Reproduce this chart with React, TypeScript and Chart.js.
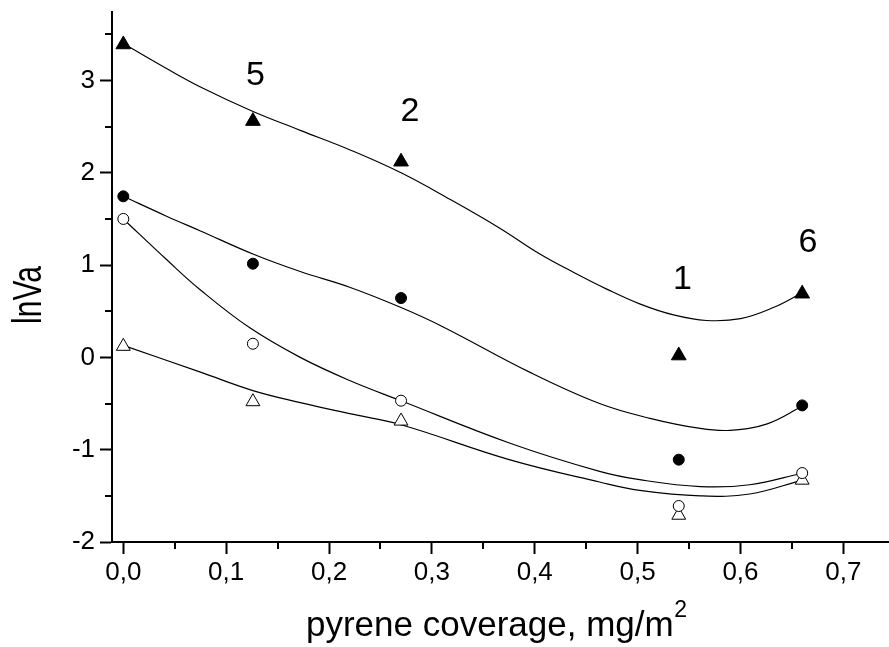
import React, { useEffect, useRef } from 'react';
import { Chart, registerables } from 'chart.js';

Chart.register(...registerables);

const FONT = "'Liberation Sans', Arial, Helvetica, sans-serif";

// measured points
const pointX = [0, 0.126, 0.27, 0.54, 0.66];
const filledTriangleY = [3.39, 2.56, 2.12, 0.02, 0.69];
const filledCircleY = [1.745, 1.015, 0.643, -1.108, -0.52];
const openCircleY = [1.5, 0.148, -0.469, -1.61, -1.253];
const openTriangleY = [0.12, -0.48, -0.69, -1.71, -1.33];

// fitted curves
const curve1X = [0, 0.042, 0.075, 0.125, 0.172, 0.22, 0.27, 0.318, 0.366, 0.405, 0.438, 0.47, 0.502, 0.535, 0.567, 0.6, 0.632, 0.66];
const curve1Y = [3.4, 3.13, 2.93, 2.67, 2.46, 2.25, 2.0, 1.71, 1.4, 1.12, 0.92, 0.74, 0.58, 0.46, 0.4, 0.42, 0.54, 0.7];

const curve2X = [0, 0.042, 0.075, 0.126, 0.172, 0.22, 0.27, 0.311, 0.395, 0.463, 0.512, 0.561, 0.59, 0.626, 0.66];
const curve2Y = [1.745, 1.53, 1.37, 1.12, 0.93, 0.76, 0.54, 0.33, -0.16, -0.5, -0.66, -0.77, -0.79, -0.72, -0.53];

const curve3X = [0, 0.042, 0.075, 0.123, 0.172, 0.22, 0.27, 0.376, 0.463, 0.502, 0.561, 0.609, 0.66];
const curve3Y = [1.5, 1.06, 0.73, 0.32, 0.0, -0.25, -0.47, -0.93, -1.235, -1.325, -1.4, -1.38, -1.255];

const curve4X = [0, 0.075, 0.126, 0.172, 0.22, 0.27, 0.376, 0.463, 0.502, 0.561, 0.609, 0.66];
const curve4Y = [0.13, -0.16, -0.36, -0.49, -0.61, -0.73, -1.11, -1.35, -1.44, -1.5, -1.48, -1.33];

// axes
const xTickValues = [0, 0.1, 0.2, 0.3, 0.4, 0.5, 0.6, 0.7];
const xTickLabels = ['0,0', '0,1', '0,2', '0,3', '0,4', '0,5', '0,6', '0,7'];
const xMinorTicks = [0.05, 0.15, 0.25, 0.35, 0.45, 0.55, 0.65];
const yTickValues = [-2, -1, 0, 1, 2, 3];
const yTickLabels = ['-2', '-1', '0', '1', '2', '3'];
const yMinorTicks = [-1.5, -0.5, 0.5, 1.5, 2.5, 3.5];

// curve number labels
const curveLabels = ['5', '2', '1', '6'];
const curveLabelX = [0.1285, 0.2787, 0.5437, 0.6656];
const curveLabelY = [3.05, 2.667, 0.842, 1.243];

const xTitle = 'pyrene coverage, mg/m';
const xTitleSup = '2';
const yTitle = 'lnVa';

const toXY = (xs: number[], ys: number[]) => xs.map((x, i) => ({ x, y: ys[i] }));

const overlayPlugin = {
  id: 'overlay',
  afterDraw(chart: any) {
    const ctx = chart.ctx;
    const xs = chart.scales.x;
    const ys = chart.scales.y;
    const { left, bottom } = chart.chartArea;
    ctx.save();
    // minor ticks
    ctx.strokeStyle = '#000';
    ctx.lineWidth = 2;
    ctx.beginPath();
    xMinorTicks.forEach((v) => {
      const px = Math.round(xs.getPixelForValue(v));
      ctx.moveTo(px, bottom);
      ctx.lineTo(px, bottom + 7);
    });
    yMinorTicks.forEach((v) => {
      const py = Math.round(ys.getPixelForValue(v));
      ctx.moveTo(left, py);
      ctx.lineTo(left - 7, py);
    });
    ctx.stroke();

    ctx.fillStyle = '#000';
    // curve labels
    ctx.font = `34px ${FONT}`;
    ctx.textAlign = 'center';
    ctx.textBaseline = 'middle';
    curveLabels.forEach((t, i) => {
      ctx.fillText(t, xs.getPixelForValue(curveLabelX[i]), ys.getPixelForValue(curveLabelY[i]));
    });

    // x title
    ctx.font = `35px ${FONT}`;
    ctx.textAlign = 'left';
    ctx.textBaseline = 'alphabetic';
    const tx = 306;
    ctx.fillText(xTitle, tx, 636);
    const w = ctx.measureText(xTitle).width;
    ctx.font = `23px ${FONT}`;
    ctx.fillText(xTitleSup, tx + w + 0.5, 617);

    // y title
    ctx.translate(30, 295);
    ctx.rotate(-Math.PI / 2);
    ctx.scale(0.75, 1);
    ctx.font = `40px ${FONT}`;
    ctx.textAlign = 'center';
    ctx.textBaseline = 'middle';
    ctx.fillText(yTitle, 0, 0);
    ctx.restore();
  },
};

export default function App() {
  const canvasRef = useRef<HTMLCanvasElement | null>(null);

  useEffect(() => {
    const canvas = canvasRef.current;
    if (!canvas) return;

    const curveStyle = {
      showLine: true,
      borderColor: '#000',
      borderWidth: 1.2,
      pointRadius: 0,
      pointHoverRadius: 0,
      tension: 0.4,
      fill: false,
    };

    const chart = new Chart(canvas, {
      type: 'scatter',
      data: {
        datasets: [
          {
            label: 'filled triangles',
            data: toXY(pointX, filledTriangleY),
            pointStyle: 'triangle',
            pointRadius: 8.5,
            backgroundColor: '#000',
            borderColor: '#000',
            borderWidth: 1,
            showLine: false,
          },
          {
            label: 'filled circles',
            data: toXY(pointX, filledCircleY),
            pointStyle: 'circle',
            pointRadius: 5.5,
            backgroundColor: '#000',
            borderColor: '#000',
            borderWidth: 1,
            showLine: false,
          },
          {
            label: 'open circles',
            data: toXY(pointX, openCircleY),
            pointStyle: 'circle',
            pointRadius: 5.5,
            backgroundColor: '#fff',
            borderColor: '#000',
            borderWidth: 1,
            showLine: false,
          },
          {
            label: 'open triangles',
            data: toXY(pointX, openTriangleY),
            pointStyle: 'triangle',
            pointRadius: 8,
            backgroundColor: '#fff',
            borderColor: '#000',
            borderWidth: 1,
            showLine: false,
          },
          { label: 'fit 1', data: toXY(curve1X, curve1Y), ...curveStyle },
          { label: 'fit 2', data: toXY(curve2X, curve2Y), ...curveStyle },
          { label: 'fit 3', data: toXY(curve3X, curve3Y), ...curveStyle },
          { label: 'fit 4', data: toXY(curve4X, curve4Y), ...curveStyle },
        ],
      },
      options: {
        responsive: false,
        animation: false,
        devicePixelRatio: 1,
        layout: { autoPadding: false, padding: { top: 12, right: 0, left: 0, bottom: 0 } },
        plugins: {
          legend: { display: false },
          tooltip: { enabled: false },
          title: { display: false },
        },
        scales: {
          x: {
            type: 'linear',
            min: -0.011,
            max: 0.7444,
            afterFit: (scale: any) => {
              scale.height = 105;
              scale.paddingLeft = 0;
              scale.paddingRight = 0;
            },
            afterBuildTicks: (scale: any) => {
              scale.ticks = xTickValues.map((v) => ({ value: v }));
            },
            border: { display: true, color: '#000', width: 2 },
            grid: {
              display: true,
              drawOnChartArea: false,
              drawTicks: true,
              tickLength: 12,
              tickWidth: 2,
              tickColor: '#000',
            },
            ticks: {
              autoSkip: false,
              maxRotation: 0,
              minRotation: 0,
              padding: 3,
              color: '#000',
              font: { family: FONT, size: 26 },
              callback: (_v: any, i: number) => xTickLabels[i],
            },
          },
          y: {
            type: 'linear',
            min: -2,
            max: 3.742,
            afterFit: (scale: any) => {
              scale.width = 112;
              scale.paddingTop = 0;
              scale.paddingBottom = 0;
            },
            afterBuildTicks: (scale: any) => {
              scale.ticks = yTickValues.map((v) => ({ value: v }));
            },
            border: { display: true, color: '#000', width: 2 },
            grid: {
              display: true,
              drawOnChartArea: false,
              drawTicks: true,
              tickLength: 12,
              tickWidth: 2,
              tickColor: '#000',
            },
            ticks: {
              autoSkip: false,
              padding: 5,
              color: '#000',
              font: { family: FONT, size: 26 },
              callback: (_v: any, i: number) => yTickLabels[i],
            },
          },
        },
      },
      plugins: [overlayPlugin],
    });

    return () => {
      chart.destroy();
    };
  }, []);

  return (
    <div style={{ position: 'absolute', left: 0, top: 0, width: 889, height: 647, background: '#fff' }}>
      <canvas ref={canvasRef} width={889} height={647} style={{ display: 'block', width: 889, height: 647 }} />
    </div>
  );
}
